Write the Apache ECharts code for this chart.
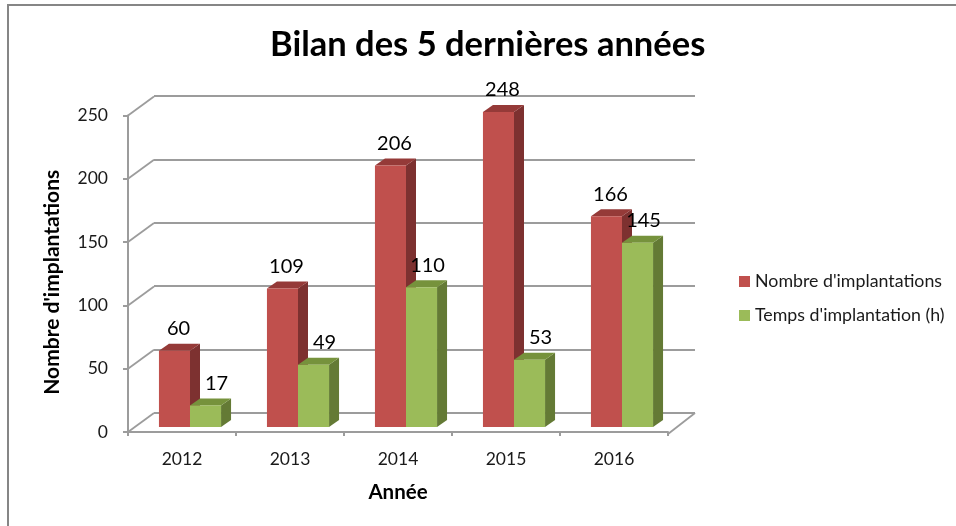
<!DOCTYPE html>
<html><head><meta charset="utf-8">
<style>html,body{margin:0;padding:0;background:#fff}#c{width:956px;height:526px}</style>
<script src="https://cdn.jsdelivr.net/npm/echarts@6/dist/echarts.min.js"></script>
</head><body><div id="c"></div>
<script>
const categories = ['2012','2013','2014','2015','2016'];
const implantations = [60,109,206,248,166];
const temps = [17,49,110,53,145];
const wallTicks = [0,50,100,150,200,250];
const seriesNames = ["Nombre d'implantations","Temps d'implantation (h)"];

const FONT = 'Lato';
const GREY = '#9c9c9c';
const DEPTH = [10,-7];
const WALL = [26,-19];

function barRenderer(side, front, top, dark){
  return function(params, api){
    const v = api.value(1);
    const c = api.coord([api.value(0), v]);
    const base = api.coord([api.value(0), 0]);
    const w = api.size([1,0])[0]*0.2875;
    const x0 = side < 0 ? c[0]-w : c[0];
    const x1 = x0+w, y0 = c[1], y1 = base[1];
    const dx = DEPTH[0], dy = DEPTH[1];
    const labelShift = side < 0 ? 4 : (v < 100 ? 11 : 6);
    return {type:'group',children:[
      {type:'polygon',shape:{points:[[x1,y0],[x1+dx,y0+dy],[x1+dx,y1+dy],[x1,y1]]},style:{fill:dark}},
      {type:'polygon',shape:{points:[[x0,y0],[x0+dx,y0+dy],[x1+dx,y0+dy],[x1,y0]]},style:{fill:top}},
      {type:'rect',shape:{x:x0,y:y0,width:w,height:y1-y0},style:{fill:front}},
      {type:'text',z2:50,style:{text:String(v),x:(x0+x1)/2+labelShift,y:y0-22,align:'center',verticalAlign:'middle',
        font:'20px '+FONT,fill:'#000'}}
    ]};
  };
}
function wallRenderer(params, api){
  const a = api.coord([0, api.value(1)]);
  const left = a[0]-api.size([1,0])[0]/2;
  const children = [{type:'line',shape:{x1:left,y1:a[1],x2:left+WALL[0],y2:a[1]+WALL[1]},style:{stroke:GREY,lineWidth:1.8}}];
  if(api.value(1)===0){
    const r = api.coord([categories.length-1,0])[0]+api.size([1,0])[0]/2;
    children.push({type:'line',shape:{x1:r,y1:a[1]+2,x2:r+WALL[0]+1,y2:a[1]+WALL[1]},style:{stroke:GREY,lineWidth:1.8}});
  }
  return {type:'group',children};
}
const chart = echarts.init(document.getElementById('c'));
chart.setOption({
  animation:false,
  backgroundColor:'#fff',
  textStyle:{fontFamily:FONT},
  title:{text:'Bilan des 5 dernières années',left:265,top:22,
    textStyle:{fontFamily:FONT,fontSize:34.5,fontWeight:'bold',color:'#000'}},
  legend:{orient:'vertical',left:734,top:267.5,itemWidth:11,itemHeight:11,itemGap:16,icon:'rect',
    data:seriesNames,textStyle:{fontFamily:FONT,fontSize:17.8,color:'#1a1a1a'}},
  grid:[
    {left:128,width:540,top:115.5,height:316.5},
    {left:154,width:541,top:96,height:317},
    {left:136,width:540,top:109.5,height:317.5}
  ],
  xAxis:[
    {gridIndex:0,type:'category',data:categories,offset:2,
      axisLine:{lineStyle:{color:GREY,width:2}},
      axisTick:{show:true,alignWithLabel:false,length:4,lineStyle:{color:GREY,width:2}},
      axisLabel:{fontFamily:FONT,fontSize:17.5,color:'#1a1a1a',margin:16},
      name:'Année',nameLocation:'middle',nameGap:48,
      nameTextStyle:{fontFamily:FONT,fontSize:20.5,fontWeight:'bold',color:'#000'}},
    {gridIndex:1,type:'category',data:categories,show:false},
    {gridIndex:2,type:'category',data:categories,show:false}
  ],
  yAxis:[
    {gridIndex:0,type:'value',min:0,max:250,interval:50,
      axisLine:{show:true,lineStyle:{color:GREY,width:2}},
      axisTick:{show:true,length:5,lineStyle:{color:GREY,width:2}},
      axisLabel:{fontFamily:FONT,fontSize:17.5,color:'#1a1a1a',margin:20,padding:[3,0,0,0]},
      splitLine:{show:false},
      name:"Nombre d'implantations",nameLocation:'middle',nameGap:65,
      nameTextStyle:{fontFamily:FONT,fontSize:21,fontWeight:'bold',color:'#000',padding:[0,17,0,0]}},
    {gridIndex:1,type:'value',min:0,max:250,interval:50,
      axisLine:{show:false},axisTick:{show:false},axisLabel:{show:false},
      splitLine:{show:true,lineStyle:{color:GREY,width:1.8}}},
    {gridIndex:2,type:'value',min:0,max:250,interval:50,show:false,splitLine:{show:false}}
  ],
  series:[
    {type:'custom',silent:true,xAxisIndex:0,yAxisIndex:0,z:1,renderItem:wallRenderer,
      data:wallTicks.map(v=>[0,v]),encode:{x:0,y:1}},
    {type:'custom',name:seriesNames[0],xAxisIndex:2,yAxisIndex:2,z:3,
      itemStyle:{color:'#C0504D'},
      renderItem:barRenderer(-1,'#C0504D','#953A38','#7D3130'),
      data:implantations.map((v,i)=>[i,v]),encode:{x:0,y:1}},
    {type:'custom',name:seriesNames[1],xAxisIndex:2,yAxisIndex:2,z:4,
      itemStyle:{color:'#9BBB59'},
      renderItem:barRenderer(1,'#9BBB59','#76923C','#647A35'),
      data:temps.map((v,i)=>[i,v]),encode:{x:0,y:1}}
  ],
  graphic:[
    {type:'polyline',silent:true,shape:{points:[[8,526],[8,5],[956,5]]},style:{stroke:'#868686',lineWidth:2,fill:null}}
  ]
});
</script></body></html>
